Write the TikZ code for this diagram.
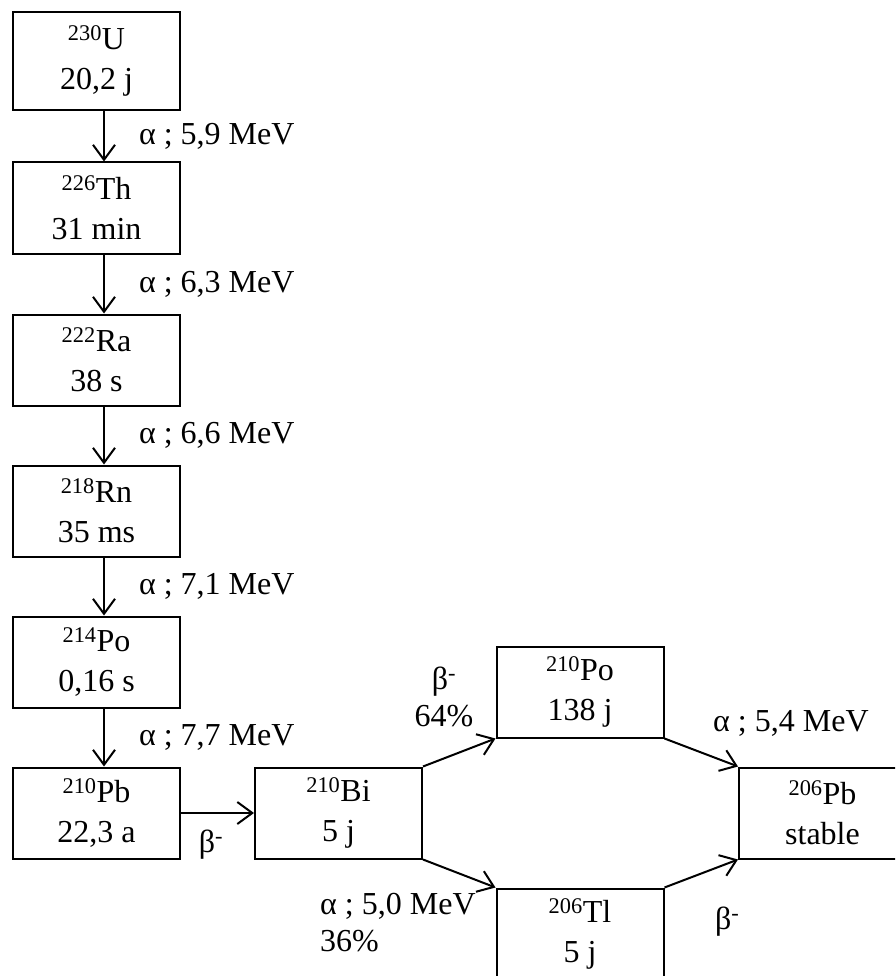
\documentclass[tikz,border=0pt]{standalone}
\usepackage{fontspec}
\setmainfont{Liberation Serif}
\usetikzlibrary{arrows.meta}
\tikzset{
  noyau/.style={draw, line width=2pt, minimum width=167pt, minimum height=91pt, align=center, inner sep=0pt},
  desint/.style={line width=2pt, -{Straight Barb[length=15pt,width=22pt]}},
  lbl/.style={inner sep=0pt, font=\fontsize{32}{37}\selectfont},
}
\newcommand{\nucl}[2]{\textsuperscript{#1}#2}
\begin{document}
\begin{tikzpicture}[x=1pt,y=-1pt,font=\fontsize{32}{40}\selectfont]
\clip (0,0) rectangle (895,976);
% Chaîne de désintégration de l'uranium 230
\node[noyau, minimum height=98pt] (U230) at (96.5,61) {\nucl{230}{U}\\20,2 j};
\node[noyau] (Th226) at (96.5,208) {\nucl{226}{Th}\\31 min};
\node[noyau] (Ra222) at (96.5,360) {\nucl{222}{Ra}\\38 s};
\node[noyau] (Rn218) at (96.5,511) {\nucl{218}{Rn}\\35 ms};
\node[noyau] (Po214) at (96.5,662) {\nucl{214}{Po}\\0,16 s};
\node[noyau] (Pb210) at (96.5,813) {\nucl{210}{Pb}\\22,3 a};
\node[noyau] (Bi210) at (338.5,813) {\nucl{210}{Bi}\\5 j};
\node[noyau] (Po210) at (580,692) {\nucl{210}{Po}\\138 j};
\node[noyau] (Tl206) at (580,934) {\nucl{206}{Tl}\\5 j};
\node[noyau] (Pb206) at (822.5,813) {\nucl{206}{Pb}\\stable};
% désintégrations alpha
\draw[desint] ([xshift=7.5pt]U230.south) -- ([xshift=7.5pt]Th226.north)
  node[lbl, midway, anchor=west, xshift=34pt] (a1) {α ; 5,9 MeV};
\draw[desint] ([xshift=7.5pt]Th226.south) -- ([xshift=7.5pt]Ra222.north)
  node[lbl, midway, anchor=west, xshift=34pt] (a2) {α ; 6,3 MeV};
\draw[desint] ([xshift=7.5pt]Ra222.south) -- ([xshift=7.5pt]Rn218.north)
  node[lbl, midway, anchor=west, xshift=34pt] (a3) {α ; 6,6 MeV};
\draw[desint] ([xshift=7.5pt]Rn218.south) -- ([xshift=7.5pt]Po214.north)
  node[lbl, midway, anchor=west, xshift=34pt] (a4) {α ; 7,1 MeV};
\draw[desint] ([xshift=7.5pt]Po214.south) -- ([xshift=7.5pt]Pb210.north)
  node[lbl, midway, anchor=west, xshift=34pt] (a5) {α ; 7,7 MeV};
% branches
\draw[desint] (Pb210) -- (Bi210);
\draw[desint] (Bi210.north east) -- (Po210.south west);
\draw[desint] (Bi210.south east) -- (Tl206.north west);
\draw[desint] (Po210.south east) -- (Pb206.north west);
\draw[desint] (Tl206.north east) -- (Pb206.south west);
\node[lbl] (b1) at (211,845) {β\textsuperscript{-}};
\node[lbl, align=center] (b2) at (444,697) {β\textsuperscript{-}\\64\%};
\node[lbl, align=left, anchor=west] (a6) at (320,923) {α ; 5,0 MeV\\36\%};
\node[lbl, anchor=west] (a7) at (713,723) {α ; 5,4 MeV};
\node[lbl, anchor=west] (b3) at (715,922) {β\textsuperscript{-}};
\end{tikzpicture}
\end{document}
